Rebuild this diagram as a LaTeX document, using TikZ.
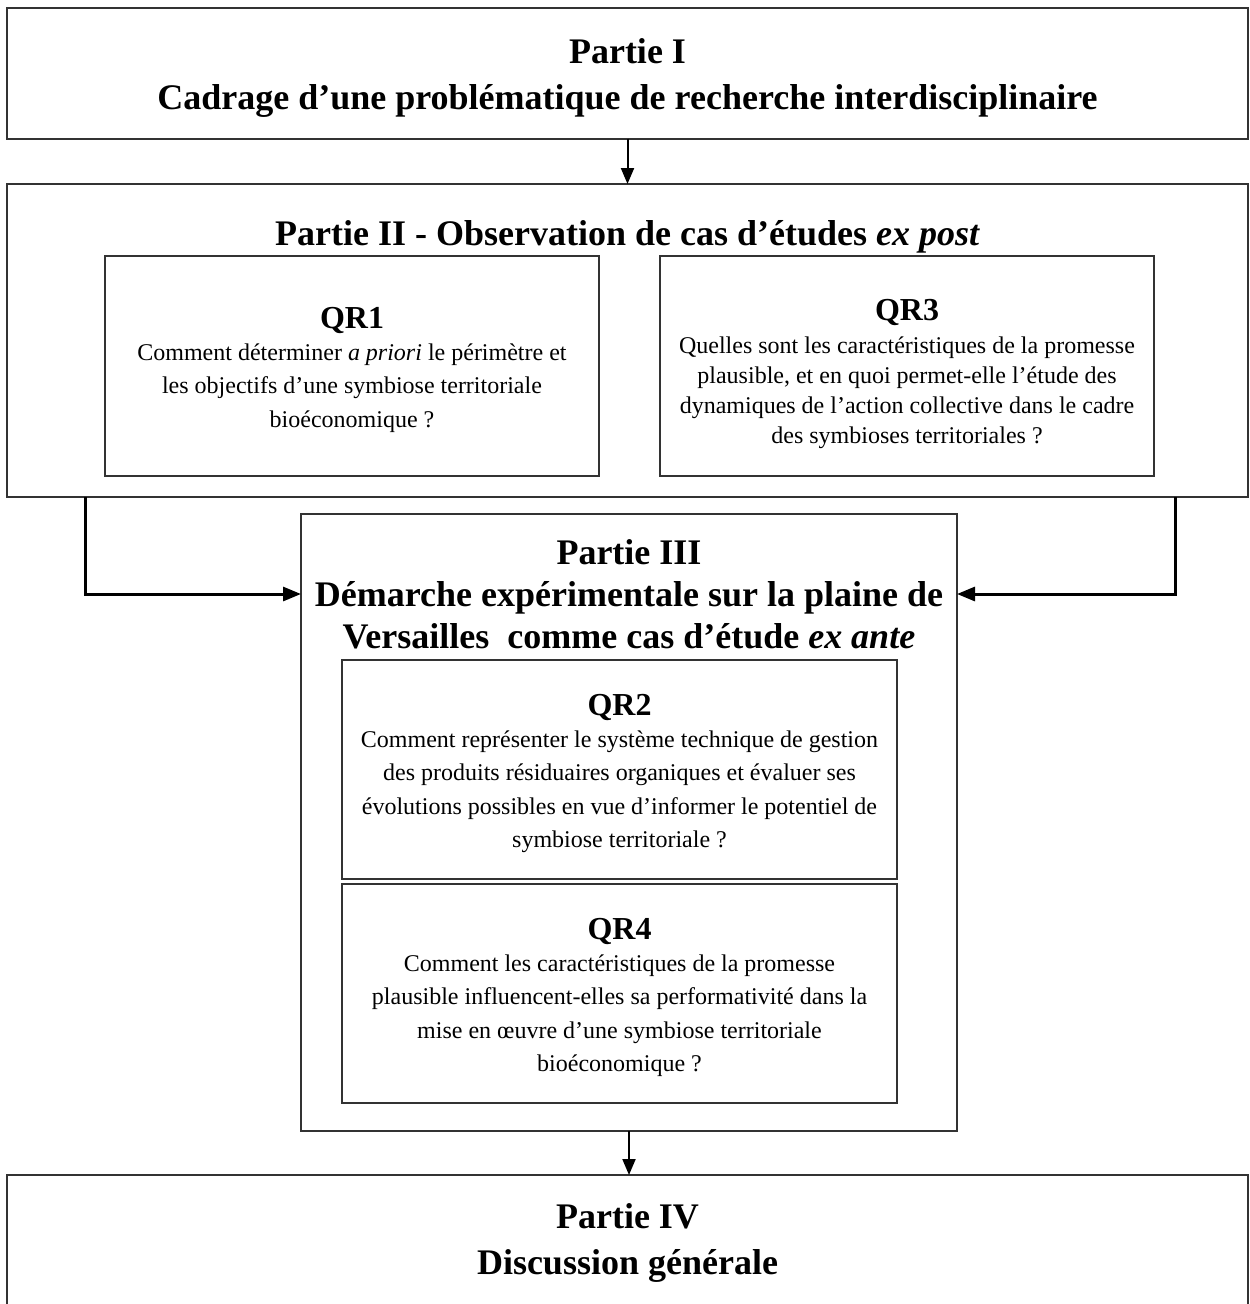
\documentclass[tikz,border=0pt]{standalone}
\usepackage{fontspec}
\setmainfont{Liberation Serif}
\usetikzlibrary{positioning,arrows.meta}
\tikzset{
  frame/.style={draw=black!80,line width=2pt,inner sep=0pt,outer sep=0pt},
  parttitle/.style={align=center,inner sep=0pt,font=\fontsize{36}{46}\selectfont\bfseries},
  qrtext/.style={align=center,inner sep=0pt,font=\fontsize{24}{33.5}\selectfont},
  link/.style={line width=2pt,-{Triangle[length=16pt,width=13pt]}},
  elbow/.style={line width=3pt,-{Triangle[length=18pt,width=14pt]}},
}
\newcommand{\qrhead}[2]{{\fontsize{32}{34}\selectfont\bfseries #1}\\[#2]}
\begin{document}
\begin{tikzpicture}[x=1pt,y=-1pt]
  \useasboundingbox (0,0) rectangle (1250,1304);
  %% parts
  \node[frame,minimum width=1241pt,minimum height=131pt] (p1) at (627.5,73) {};
  \node[parttitle] (p1t) at ([yshift=-5pt]p1.center)
    {Partie I\\Cadrage d’une problématique de recherche interdisciplinaire};
  \node[frame,minimum width=1241pt,minimum height=313pt] (p2) at (627.5,340.5) {};
  \node[parttitle] (p2t) at (627.5,237) {Partie II - Observation de cas d’études \textit{ex post}};
  \node[frame,minimum width=656pt,minimum height=617pt] (p3) at (629,822.5) {};
  \node[parttitle,font=\fontsize{36}{42}\selectfont\bfseries] (p3t) at (629,594)
    {Partie III\\Démarche expérimentale sur la plaine de\\Versailles\ \ comme cas d’étude \textit{ex ante}};
  \node[frame,minimum width=1241pt,minimum height=131pt] (p4) at (627.5,1240.5) {};
  \node[parttitle] (p4t) at ([yshift=-2pt]p4.center) {Partie IV\\Discussion générale};
  %% research questions
  \node[frame,minimum width=494pt,minimum height=220pt] (q1) at (352,366) {};
  \node[qrtext] (q1t) at ([yshift=-4pt]q1.center)
    {\qrhead{QR1}{-2pt}Comment déterminer \textit{a priori} le périmètre et\\les objectifs d’une symbiose territoriale\\bioéconomique ?};
  \node[frame,minimum width=494pt,minimum height=220pt] (q3) at (907,366) {};
  \node[qrtext,font=\fontsize{24}{30}\selectfont] (q3t) at ([yshift=-7.5pt]q3.center)
    {\qrhead{QR3}{3pt}Quelles sont les caractéristiques de la promesse\\plausible, et en quoi permet-elle l’étude des\\dynamiques de l’action collective dans le cadre\\des symbioses territoriales ?};
  \node[frame,minimum width=555pt,minimum height=219pt] (q2) at (619.5,769.5) {};
  \node[qrtext] (q2t) at ([yshift=-4pt]q2.center)
    {\qrhead{QR2}{-2pt}Comment représenter le système technique de gestion\\des produits résiduaires organiques et évaluer ses\\évolutions possibles en vue d’informer le potentiel de\\symbiose territoriale ?};
  \node[frame,minimum width=555pt,minimum height=219pt] (q4) at (619.5,993.5) {};
  \node[qrtext] (q4t) at ([yshift=-4pt]q4.center)
    {\qrhead{QR4}{-2pt}Comment les caractéristiques de la promesse\\plausible influencent-elles sa performativité dans la\\mise en œuvre d’une symbiose territoriale\\bioéconomique ?};
  %% arrows
  \coordinate (lturn) at (85,594);
  \coordinate (rturn) at (1175,594);
  \draw[link] (p1.south) -- (p2.north);
  \draw[elbow] (p2.south -| lturn) |- (p3.west |- p3t);
  \draw[elbow] (p2.south -| rturn) |- (p3.east |- p3t);
  \draw[link] (p3.south) -- (p3.south |- p4.north);
\end{tikzpicture}
\end{document}
